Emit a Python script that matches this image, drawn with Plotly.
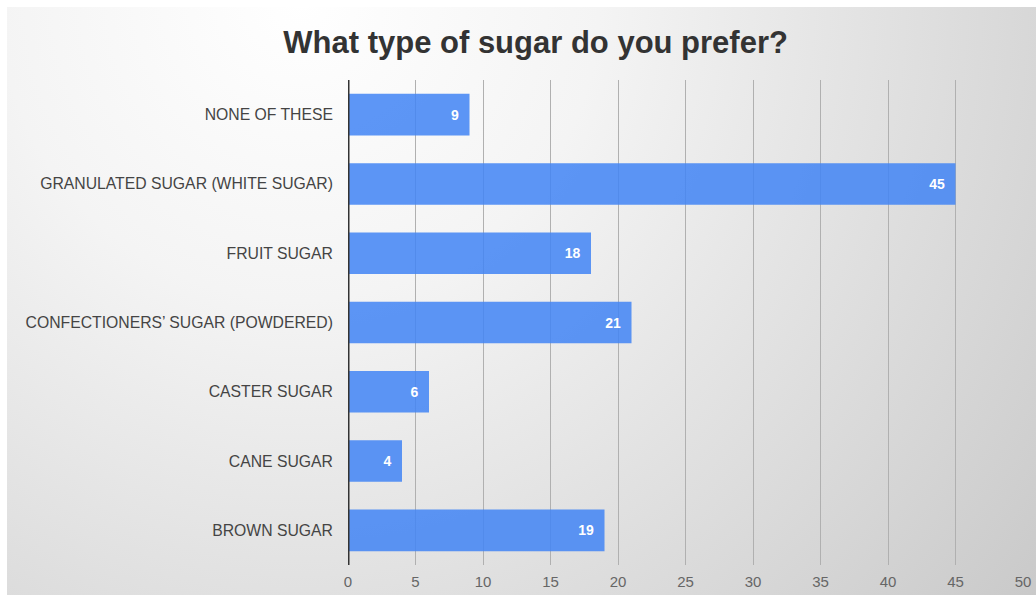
import base64
import plotly.graph_objects as go

categories = [
    "BROWN SUGAR",
    "CANE SUGAR",
    "CASTER SUGAR",
    "CONFECTIONERS’ SUGAR (POWDERED)",
    "FRUIT SUGAR",
    "GRANULATED SUGAR (WHITE SUGAR)",
    "NONE OF THESE",
]
values = [19, 4, 6, 21, 18, 45, 9]
x_ticks = [0, 5, 10, 15, 20, 25, 30, 35, 40, 45, 50]
title_text = "What type of sugar do you prefer?"

W, H = 1036, 595
svg = f'''<svg xmlns="http://www.w3.org/2000/svg" width="{W}" height="{H}">
<defs><radialGradient id="g" cx="300" cy="0" r="1000" gradientUnits="userSpaceOnUse">
<stop offset="0" stop-color="#ffffff"/><stop offset="0.3" stop-color="#f4f4f4"/>
<stop offset="1" stop-color="#c6c6c6"/></radialGradient></defs>
<rect x="0" y="0" width="{W}" height="{H}" fill="#ffffff"/>
<rect x="7" y="7" width="{W-7}" height="{H-7}" fill="url(#g)"/>
</svg>'''
bg_uri = "data:image/svg+xml;base64," + base64.b64encode(svg.encode()).decode()

FONT = "Liberation Sans, Arial, sans-serif"
L, R, T, B = 348, 13, 80, 30
PW, PH = W - L - R, H - T - B

fig = go.Figure(
    go.Bar(
        x=values,
        y=categories,
        orientation="h",
        marker=dict(color="rgba(66,133,244,0.86)", line=dict(width=0)),
        width=0.6,
        text=[str(v) + "\u00a0\u00a0" for v in values],
        textposition="inside",
        insidetextanchor="end",
        textfont=dict(family=FONT, size=14, color="white", weight="bold"),
        cliponaxis=False,
    )
)

fig.update_layout(
    width=W,
    height=H,
    margin=dict(l=L, r=R, t=T, b=B, autoexpand=False),
    paper_bgcolor="white",
    plot_bgcolor="rgba(0,0,0,0)",
    showlegend=False,
    title=dict(
        text="<b>" + title_text + "</b>",
        x=0.517,
        xanchor="center",
        y=1 - 42 / H,
        yanchor="middle",
        font=dict(family=FONT, size=31, color="#333333"),
    ),
    images=[dict(
        source=bg_uri, xref="paper", yref="paper",
        x=-L / PW, y=1 + T / PH,
        sizex=W / PW, sizey=H / PH,
        xanchor="left", yanchor="top", sizing="stretch", layer="below",
    )],
    xaxis=dict(
        range=[0, 50],
        tickvals=x_ticks,
        automargin=False,
        showgrid=True,
        gridcolor="#b0b0b0",
        gridwidth=1,
        zeroline=False,
        showline=False,
        ticks="",
        ticklabelstandoff=6,
        tickfont=dict(family=FONT, size=15, color="#666666"),
    ),
    yaxis=dict(
        categoryorder="array",
        categoryarray=categories,
        automargin=False,
        showgrid=False,
        showline=False,
        ticks="",
        ticklabelstandoff=14,
        tickfont=dict(family=FONT, size=15.75, color="#444444"),
    ),
    shapes=[dict(type="line", xref="x", yref="paper", x0=0, x1=0, y0=0, y1=1,
                 line=dict(color="#333333", width=3))],
)

fig.write_html(
    "out.html",
    config={"displayModeBar": False},
    post_script="document.body.style.margin='0';document.body.style.overflow='hidden';",
)
